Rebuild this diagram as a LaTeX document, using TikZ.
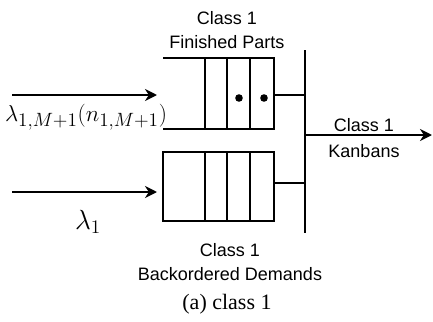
\documentclass[tikz,border=0pt]{standalone}
\usepackage{fontspec}
\setmainfont{Liberation Serif}
\newfontfamily\lblfont{Liberation Sans}
\usetikzlibrary{arrows.meta}
\tikzset{
  qline/.style={line width=1.5pt},
  flow/.style={line width=2.2pt,-{Stealth[length=9pt,width=9pt]}},
  lbl/.style={font=\lblfont\fontsize{13.5}{18}\selectfont,align=center,inner sep=0pt}
}
\begin{document}
\begin{tikzpicture}[x=0.75pt,y=-0.75pt]
  \useasboundingbox (0,0) rectangle (433,322);

  %Hang doi tren (finished parts)
  \draw[qline] (163,58)--(274,58)--(274,129)--(163,129);
  \foreach \xx in {205,227,250}
    \draw[qline] (\xx,58)--(\xx,129);
  \fill (239,98) circle (3.8);
  \fill (264,98) circle (3.8);
  \node[lbl] (fpTxt) at (227,30) {Class 1\\Finished Parts};

  %Hang doi duoi (backordered demands)
  \draw[qline] (163,152) rectangle (274,221);
  \foreach \xx in {205,227,250}
    \draw[qline] (\xx,152)--(\xx,221);
  \node[lbl] (bdTxt) at (230,262) {Class 1\\Backordered Demands};

  %Thanh dong bo
  \coordinate (barTop) at (305,50);
  \coordinate (barBot) at (305,233);
  \coordinate (fpOut) at (274,95);
  \coordinate (bdOut) at (274,183);
  \draw[qline] (barTop)--(barBot);
  \draw[qline] (fpOut)--(fpOut-|barTop);
  \draw[qline] (bdOut)--(bdOut-|barTop);

  %Mui ten ra
  \coordinate (outS) at (305,135);
  \coordinate (outE) at (432,135);
  \draw[flow] (outS)--(outE);
  \node[lbl,font=\lblfont\fontsize{13.5}{20}\selectfont] (kbTxt) at (364,138) {Class 1\\Kanbans};

  %Mui ten vao
  \coordinate (inA) at (12,95);
  \coordinate (inAe) at (157,95);
  \coordinate (inB) at (12,192);
  \coordinate (inBe) at (157,192);
  \draw[flow] (inA)--(inAe);
  \draw[flow] (inB)--(inBe);
  \node (rateA) at (86,117) {\fontsize{19}{22}\selectfont$\lambda_{1,M+1}(n_{1,M+1})$};
  \node (rateB) at (88,222) {\fontsize{21}{24}\selectfont$\lambda_1$};

  %Chu thich
  \node (capTxt) at (227,304) {\fontsize{16.5}{20}\selectfont(a) class 1};
\end{tikzpicture}
\end{document}
